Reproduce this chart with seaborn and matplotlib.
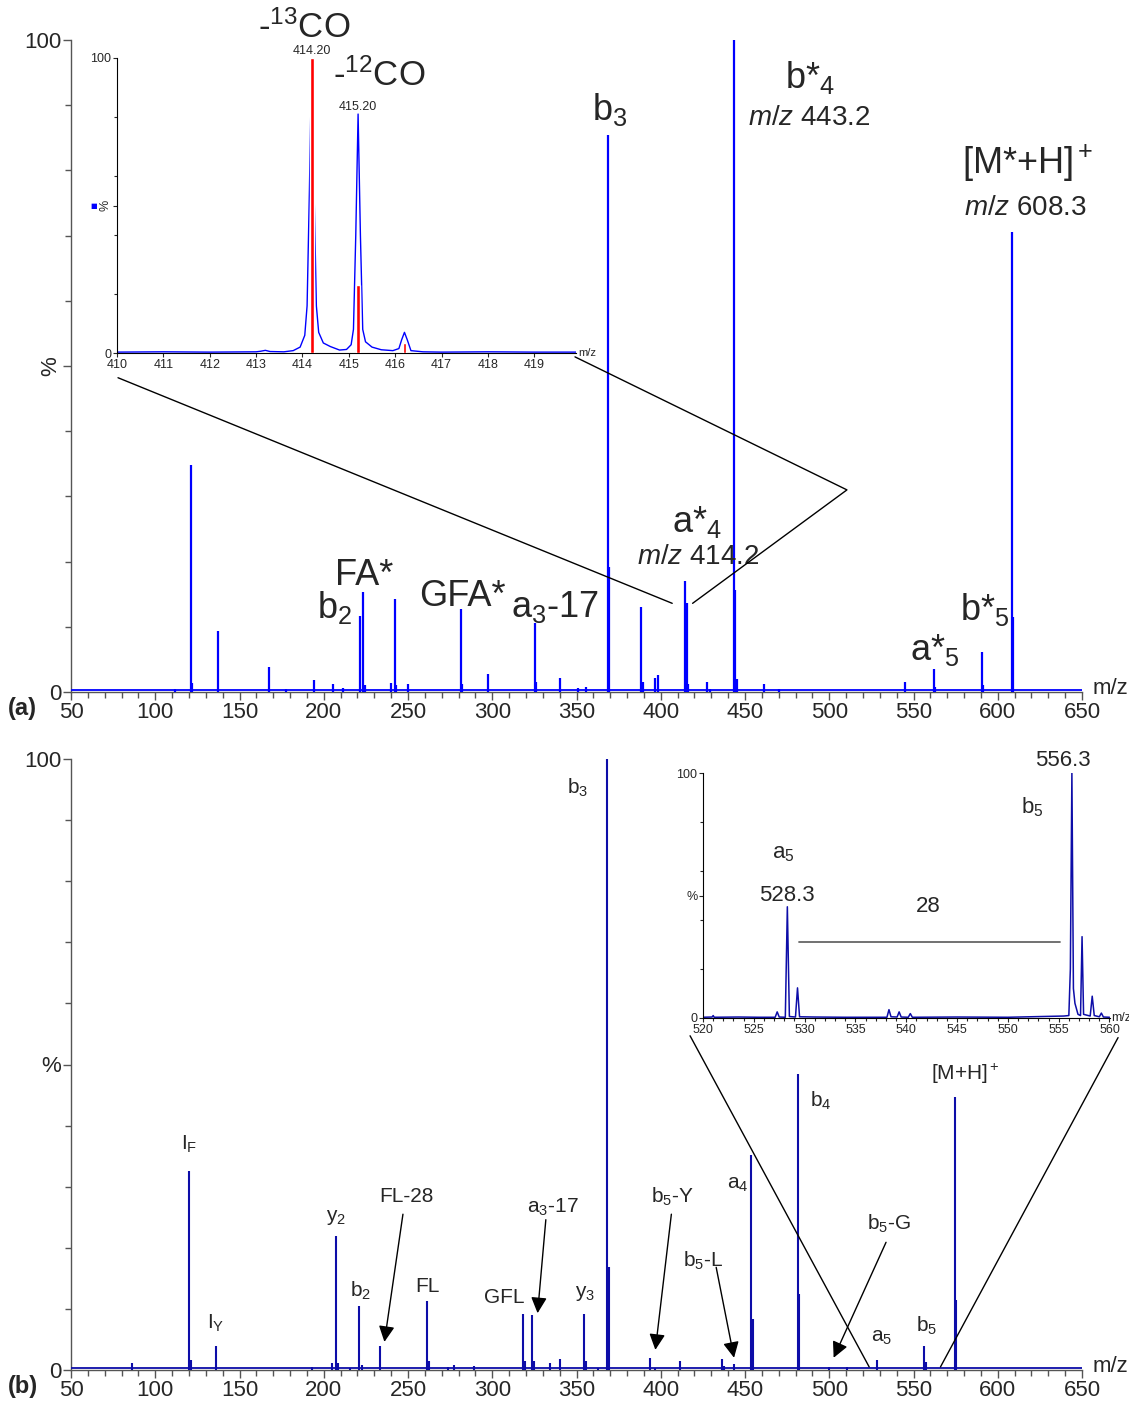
import numpy as np
import pandas as pd
import matplotlib
matplotlib.use('Agg')
import matplotlib.pyplot as plt
from matplotlib.ticker import MultipleLocator
import seaborn as sns

sns.set_style('ticks')
plt.rcParams['font.family'] = ['Liberation Sans', 'DejaVu Sans']
plt.rcParams['mathtext.fontset'] = 'custom'
plt.rcParams['mathtext.rm'] = 'Liberation Sans'
plt.rcParams['mathtext.it'] = 'Liberation Sans:italic'
plt.rcParams['mathtext.default'] = 'regular'

# ---- data: spectrum (a), stick peaks
mz_a = [111.8, 121.1, 122.1, 137.1, 167.5, 177.7, 194.4, 205.6, 211.4, 221.7,
        223.4, 224.4, 239.9, 242.1, 243.0, 250.0, 281.3, 282.3, 297.4, 325.1,
        326.0, 340.2, 350.6, 355.4, 368.5, 369.4, 388.4, 389.3, 396.4, 398.2,
        414.2, 415.3, 416.2, 427.4, 429.2, 443.2, 444.2, 445.4, 461.0, 470.4,
        545.1, 562.1, 563.0, 590.4, 591.3, 608.3, 609.2]
int_a = [0.4, 34.8, 1.4, 9.4, 3.8, 0.5, 1.9, 1.3, 0.6, 11.7,
         15.4, 1.0, 1.4, 14.2, 1.0, 1.3, 12.7, 1.2, 2.7, 10.6,
         1.5, 2.1, 0.6, 0.8, 85.4, 19.2, 13.0, 1.5, 2.2, 2.6,
         17.0, 13.7, 1.3, 1.6, 0.5, 100.0, 15.6, 2.0, 1.3, 0.5,
         1.5, 3.6, 0.8, 6.2, 1.0, 70.6, 11.5]

# ---- data: spectrum (b)
mz_b = [86.0, 120.1, 121.2, 136.2, 193.0, 205.1, 207.2, 208.3, 215.3, 221.2,
        222.5, 233.5, 261.4, 262.3, 273.5, 277.3, 289.4, 318.4, 319.5, 323.5,
        324.6, 334.5, 340.4, 354.5, 355.6, 362.7, 368.3, 369.2, 393.4, 396.3,
        411.2, 436.4, 437.5, 443.3, 453.6, 454.5, 481.4, 482.3, 499.7, 510.8,
        528.3, 556.3, 557.4, 574.5, 575.4]
int_b = [1.1, 32.6, 1.7, 4.0, 0.5, 1.1, 22.0, 1.1, 0.4, 10.4,
         0.8, 4.0, 11.3, 1.5, 0.5, 0.9, 0.7, 9.2, 1.4, 9.0,
         1.4, 1.1, 1.8, 9.2, 1.5, 0.4, 100.0, 16.8, 2.0, 0.4,
         1.5, 1.8, 0.7, 1.0, 35.2, 8.3, 48.5, 12.4, 0.5, 0.5,
         1.7, 3.9, 1.3, 44.7, 11.4]

# ---- inset (a): profile trace and red centroid bars
prof_a_mz = [410.0, 411.0, 412.0, 413.0, 413.1, 413.2, 413.3, 413.6, 413.8, 413.95,
             414.05, 414.1, 414.15, 414.2, 414.25, 414.3, 414.35, 414.45, 414.6, 414.8,
             414.95, 415.05, 415.1, 415.15, 415.2, 415.25, 415.3, 415.36, 415.5, 415.7,
             415.95, 416.08, 416.14, 416.2, 416.26, 416.34, 416.6, 417.0, 418.0, 419.0, 419.9]
prof_a_int = [0.3, 0.4, 0.3, 0.4, 0.6, 0.9, 0.5, 0.4, 0.8, 2.0,
              6.0, 16.0, 55.0, 100.0, 55.0, 16.0, 7.0, 3.4, 2.2, 1.0,
              1.2, 2.8, 8.0, 40.0, 81.0, 40.0, 8.0, 3.8, 2.0, 1.1,
              0.8, 1.5, 4.5, 7.0, 4.5, 0.8, 0.4, 0.3, 0.4, 0.3, 0.3]
bar_a_mz = [414.2, 415.2, 416.2]
bar_a_int = [100.0, 22.9, 3.4]

# ---- inset (b): profile trace
prof_b_mz = [520.0, 520.9, 521.0, 521.1, 523.5, 525.5, 527.1, 527.3, 527.5, 528.1,
             528.3, 528.5, 529.1, 529.3, 529.5, 531.0, 534.0, 538.1, 538.3, 538.5,
             539.1, 539.3, 539.5, 540.2, 540.4, 540.6, 545.0, 550.0, 555.5, 556.0,
             556.15, 556.3, 556.45, 556.6, 556.9, 557.15, 557.3, 557.45, 558.1, 558.3,
             558.5, 559.0, 559.2, 559.4, 560.0]
prof_b_int = [0.3, 0.4, 1.0, 0.3, 0.4, 0.3, 0.3, 2.5, 0.4, 0.3,
              45.4, 0.6, 0.4, 12.3, 0.5, 0.4, 0.3, 0.3, 3.4, 0.5,
              0.4, 2.5, 0.4, 0.3, 1.8, 0.3, 0.4, 0.3, 0.8, 1.0,
              20.0, 100.0, 12.0, 6.0, 1.5, 1.0, 33.2, 1.5, 0.8, 8.9,
              1.0, 0.5, 2.0, 0.4, 0.3]

blue_a = '#0000ff'
blue_b = '#0d0da8'
spine_c = '#555555'

W, H = 1129, 1401
fig = plt.figure(figsize=(W / 100, H / 100), dpi=100)


def px_axes(l, t, r, b):
    return fig.add_axes([l / W, 1 - b / H, (r - l) / W, (b - t) / H])


def style_main(ax, rot_pct):
    ax.set_xlim(50, 650)
    ax.set_ylim(0, 100)
    ax.set_xticks(range(50, 651, 50))
    ax.xaxis.set_minor_locator(MultipleLocator(10))
    ax.set_yticks([0, 50, 100])
    ax.set_yticklabels(['0', '%', '100'])
    ax.yaxis.set_minor_locator(MultipleLocator(10))
    ax.tick_params(axis='both', which='major', direction='out', length=6, width=1,
                   color=spine_c, labelsize=16, pad=1)
    ax.tick_params(axis='both', which='minor', direction='out', length=4, width=1,
                   color=spine_c)
    if rot_pct:
        ax.get_yticklabels()[1].set_rotation(90)
        ax.get_yticklabels()[1].set_va('center')
    sns.despine(ax=ax)
    for s in ['left', 'bottom']:
        ax.spines[s].set_color(spine_c)
        ax.spines[s].set_linewidth(1)
    ax.patch.set_alpha(0)
    ax.text(656, 0.5, 'm/z', fontsize=16, ha='left', va='center', clip_on=False)


# ================= panel (a)
ax_a = px_axes(71, 40, 1082, 692)
style_main(ax_a, True)
ax_a.axhline(0.3, color=blue_a, lw=1.3, zorder=3)
ax_a.vlines(mz_a, 0, int_a, color=blue_a, lw=1.6, zorder=3)

big = 26
mid = 20
ax_a.text(369.9, 89.3, r'b$_3$', fontsize=big, ha='center', va='center')
ax_a.text(488.6, 94.2, r'b*$_4$', fontsize=big, ha='center', va='center')
ax_a.text(488.0, 88.0, r'$\mathit{m/z}$ 443.2', fontsize=mid, ha='center', va='center')
ax_a.text(618.0, 81.1, r'[M*+H]$^+$', fontsize=big, ha='center', va='center')
ax_a.text(616.2, 74.2, r'$\mathit{m/z}$ 608.3', fontsize=mid, ha='center', va='center')
ax_a.text(421.5, 26.1, r'a*$_4$', fontsize=big, ha='center', va='center')
ax_a.text(422.1, 20.7, r'$\mathit{m/z}$ 414.2', fontsize=mid, ha='center', va='center')
ax_a.text(223.9, 17.8, 'FA*', fontsize=big, ha='center', va='center')
ax_a.text(206.7, 12.9, r'b$_2$', fontsize=big, ha='center', va='center')
ax_a.text(282.0, 14.6, 'GFA*', fontsize=big, ha='center', va='center')
ax_a.text(337.2, 13.0, r'a$_3$-17', fontsize=big, ha='center', va='center')
ax_a.text(592.4, 12.6, r'b*$_5$', fontsize=big, ha='center', va='center')
ax_a.text(562.8, 6.4, r'a*$_5$', fontsize=big, ha='center', va='center')

# zoom connector lines
ax_a.plot([77.9, 406.8], [48.2, 13.6], color='black', lw=1, clip_on=False, zorder=4)
ax_a.plot([349.1, 510.5, 418.9], [51.4, 31.0, 13.6], color='black', lw=1,
          clip_on=False, zorder=4)

fig.text(8 / W, 1 - 708 / H, '(a)', fontsize=17, fontweight='bold', ha='left', va='center')

# inset (a)
ins_a = px_axes(117, 58, 576, 353)
prof_a = pd.DataFrame({'mz': prof_a_mz, 'int': prof_a_int})
sns.lineplot(data=prof_a, x='mz', y='int', ax=ins_a, color=blue_a, lw=1, zorder=2)
ins_a.bar(bar_a_mz, bar_a_int, width=0.08, color='#ff0000', zorder=3)
ins_a.set_xlim(410, 419.9)
ins_a.set_ylim(0, 100)
ins_a.set_xticks(range(410, 420))
ins_a.set_yticks([0, 50, 100])
ins_a.set_yticklabels(['0', '%', '100'])
ins_a.set_yticks([20, 40, 60, 80], minor=True)
ins_a.get_yticklabels()[1].set_rotation(90)
ins_a.get_yticklabels()[1].set_va('center')
ins_a.tick_params(axis='both', which='major', direction='out', length=3, width=0.8,
                  labelsize=9, pad=1)
ins_a.tick_params(axis='both', which='minor', direction='out', length=2, width=0.8)
ins_a.set_xlabel('')
ins_a.set_ylabel('')
sns.despine(ax=ins_a)
for s in ['left', 'bottom']:
    ins_a.spines[s].set_color('black')
    ins_a.spines[s].set_linewidth(0.8)
ins_a.patch.set_alpha(0)
ins_a.text(419.95, 0, 'm/z', fontsize=8, ha='left', va='center', clip_on=False)
ins_a.text(414.2, 100.5, '414.20', fontsize=9, ha='center', va='bottom')
ins_a.text(415.2, 81.5, '415.20', fontsize=9, ha='center', va='bottom')
ins_a.text(414.03, 110.2, r'-$^{13}$CO', fontsize=25, ha='center', va='center', clip_on=False)
ins_a.text(415.65, 94.2, r'-$^{12}$CO', fontsize=25, ha='center', va='center', clip_on=False)
ins_a.text(409.5, 49.8, '\u25a0', fontsize=5, color=blue_a, ha='center', va='center',
           family=['DejaVu Sans'], clip_on=False)

# ================= panel (b)
ax_b = px_axes(71, 759, 1082, 1370)
style_main(ax_b, False)
ax_b.axhline(0.3, color=blue_b, lw=1.3, zorder=3)
ax_b.vlines(mz_b, 0, int_b, color=blue_b, lw=1.5, zorder=3)

sm = 15
lbl_b = [
    (120.3, 36.9, r'I$_F$'),
    (135.7, 7.6, r'I$_Y$'),
    (207.4, 25.0, r'y$_2$'),
    (222.0, 13.0, r'b$_2$'),
    (261.4, 13.7, 'FL'),
    (307.4, 11.9, 'GFL'),
    (354.9, 12.5, r'y$_3$'),
    (350.9, 95.3, r'b$_3$'),
    (445.8, 30.4, r'a$_4$'),
    (495.2, 44.1, r'b$_4$'),
    (531.1, 5.4, r'a$_5$'),
    (557.6, 7.3, r'b$_5$'),
    (580.5, 48.4, r'[M+H]$^+$'),
]
for x, y, s in lbl_b:
    ax_b.text(x, y, s, fontsize=sm, ha='center', va='center')

arrows_b = [
    (r'FL-28', (249.2, 28.4), (247.0, 25.5), (236.0, 4.6)),
    (r'a$_3$-17', (336.0, 26.6), (331.8, 24.6), (326.9, 9.3)),
    (r'b$_5$-Y', (406.8, 28.3), (406.3, 25.5), (396.8, 3.3)),
    (r'b$_5$-L', (425.1, 17.9), (432.9, 16.8), (443.5, 2.0)),
    (r'b$_5$-G', (535.3, 23.9), (533.7, 20.9), (502.6, 2.0)),
]
for s, tpos, start, tip in arrows_b:
    ax_b.text(tpos[0], tpos[1], s, fontsize=sm, ha='center', va='center')
    ax_b.annotate('', xy=tip, xytext=start,
                  arrowprops=dict(arrowstyle='-|>', color='black', lw=1,
                                  mutation_scale=24, shrinkA=0, shrinkB=0))

ax_b.plot([417.4, 523.7], [54.7, 0.5], color='black', lw=1, clip_on=False, zorder=4)
ax_b.plot([671.4, 566.0], [54.4, 0.5], color='black', lw=1, clip_on=False, zorder=4)

fig.text(8 / W, 1 - 1386 / H, '(b)', fontsize=17, fontweight='bold', ha='left', va='center')

# inset (b)
ins_b = px_axes(703, 773, 1110, 1018)
prof_b = pd.DataFrame({'mz': prof_b_mz, 'int': prof_b_int})
sns.lineplot(data=prof_b, x='mz', y='int', ax=ins_b, color=blue_b, lw=1.1)
ins_b.set_xlim(520, 560.05)
ins_b.set_ylim(0, 100)
ins_b.set_xticks(range(520, 561, 5))
ins_b.xaxis.set_minor_locator(MultipleLocator(1))
ins_b.set_yticks([0, 50, 100])
ins_b.set_yticklabels(['0', '%', '100'])
ins_b.set_yticks([20, 40, 60, 80], minor=True)
ins_b.tick_params(axis='both', which='major', direction='out', length=3, width=0.8,
                  labelsize=9, pad=1)
ins_b.tick_params(axis='both', which='minor', direction='out', length=2, width=0.8)
ins_b.set_xlabel('')
ins_b.set_ylabel('')
sns.despine(ax=ins_b)
for s in ['left', 'bottom']:
    ins_b.spines[s].set_color('black')
    ins_b.spines[s].set_linewidth(0.8)
ins_b.patch.set_alpha(0)
ins_b.text(560.2, 0, 'm/z', fontsize=9, ha='left', va='center', clip_on=False)
ins_b.plot([529.4, 555.1], [31.1, 31.1], color='#666666', lw=1.3)
ins_b.text(542.2, 45.4, '28', fontsize=16, ha='center', va='center')
ins_b.text(528.3, 50.2, '528.3', fontsize=16, ha='center', va='center')
ins_b.text(527.9, 67.0, r'a$_5$', fontsize=16, ha='center', va='center')
ins_b.text(555.4, 105.0, '556.3', fontsize=16, ha='center', va='center', clip_on=False)
ins_b.text(552.4, 86.0, r'b$_5$', fontsize=16, ha='center', va='center')

fig.savefig('out.png', dpi=100)
